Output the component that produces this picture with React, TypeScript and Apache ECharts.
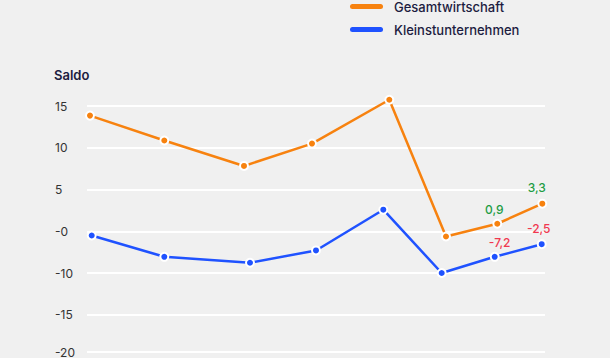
import React, { useEffect, useRef } from "react";
import * as echarts from "echarts";

// Series names
const seriesNames = ["Gesamtwirtschaft", "Kleinstunternehmen"];

// x positions (relative time units)
const orangeX = [3, 77.3, 157, 225, 302.3, 359, 410.3, 455.3];
const blueX = [4.7, 77.3, 163, 229, 296.3, 354.7, 407.7, 454.7];

// plotted values
const orangeY = [13.85, 10.87, 7.82, 10.5, 15.75, -0.63, 0.9, 3.3];
const blueY = [-0.51, -3.06, -3.77, -2.3, 2.58, -5.0, -3.06, -1.55];

// data labels shown on the last points
const orangeLabels = ["", "", "", "", "", "", "0,9", "3,3"];
const blueLabels = ["", "", "", "", "", "", "-7,2", "-2,5"];

// y axis ticks and their printed labels
const yTickValues = [15, 10, 5, 0, -5, -10, -15];
const yTickLabels = ["15", "10", "5", "-0", "-10", "-15", "-20"];
// the lowest visible grid line sits a little above the -15 tick
const bottomGridValue = -14.49;

const ORANGE = "#f7820f";
const BLUE = "#1f52ff";
const GREEN = "#1f9d45";
const RED = "#f0384f";
const NAVY = "#1c1c40";
const FONT = "Inter, 'Noto Sans', sans-serif";

const labelOffsets: Record<string, [number, number]> = {
  "0,9": [-3, 1],
  "3,3": [-5.5, -1],
  "-7,2": [5, 0.5],
  "-2,5": [-3, -1],
};

function buildData(xs: number[], ys: number[], labels: string[], color: string) {
  return xs.map((x, i) => {
    const txt = labels[i];
    const item: any = { value: [x, ys[i]] };
    if (txt) {
      item.label = {
        show: true,
        position: "top",
        distance: 4,
        offset: labelOffsets[txt] || [0, 0],
        formatter: () => txt,
        color,
        fontSize: 12,
        fontWeight: 500,
        fontFamily: FONT,
      };
    }
    return item;
  });
}

export default function App() {
  const ref = useRef<HTMLDivElement>(null);
  useEffect(() => {
    if (!ref.current) return;
    const chart = echarts.init(ref.current, undefined, { renderer: "svg" });
    const legendIcon =
      "path://M2.5,0 H30.5 A2.5,2.5 0 0 1 30.5,5 H2.5 A2.5,2.5 0 0 1 2.5,0 Z";
    chart.setOption({
      animation: false,
      backgroundColor: "#f0f0f0",
      title: {
        text: "Saldo",
        left: 54,
        top: 68,
        padding: 0,
        textStyle: { color: NAVY, fontSize: 13, fontWeight: 600, fontFamily: FONT },
      },
      legend: {
        orient: "vertical",
        left: 350,
        top: 0,
        padding: 0,
        itemWidth: 33,
        itemHeight: 5,
        itemGap: 10,
        data: seriesNames.map((n, i) => ({
          name: n,
          icon: legendIcon,
          itemStyle: { color: i === 0 ? ORANGE : BLUE, borderWidth: 0 },
        })),
        textStyle: {
          color: NAVY,
          fontSize: 13,
          fontWeight: 500,
          fontFamily: FONT,
          padding: [0, 0, 0, 6],
        },
      },
      grid: { left: 87, right: 65, top: 106, bottom: 0 },
      xAxis: {
        type: "value",
        min: 0,
        max: 458,
        show: false,
      },
      yAxis: {
        type: "value",
        min: -15,
        max: 15,
        interval: 5,
        axisLine: { show: false },
        axisTick: { show: false },
        splitLine: {
          showMinLine: false,
          lineStyle: { color: "#ffffff", width: 2 },
        },
        axisLabel: {
          align: "left",
          margin: 32,
          color: "#333333",
          fontSize: 12,
          fontFamily: FONT,
          showMinLabel: true,
          formatter: (v: number) => {
            const idx = yTickValues.indexOf(v);
            if (idx < 0) return "";
            if (v === -15) return "{low|" + yTickLabels[idx] + "}";
            return yTickLabels[idx];
          },
          rich: {
            low: {
              color: "#333333",
              fontSize: 12,
              fontFamily: FONT,
              padding: [0, 0, 9, 0],
            },
          },
        },
      },
      series: [
        {
          name: seriesNames[0],
          type: "line",
          clip: false,
          data: buildData(orangeX, orangeY, orangeLabels, GREEN),
          symbol: "circle",
          symbolSize: 8,
          lineStyle: { color: ORANGE, width: 2.5 },
          itemStyle: { color: ORANGE, borderColor: "#ffffff", borderWidth: 2 },
          markLine: {
            silent: true,
            symbol: "none",
            label: { show: false },
            lineStyle: { color: "#ffffff", width: 2, type: "solid" },
            data: [{ yAxis: bottomGridValue }],
          },
          z: 3,
        },
        {
          name: seriesNames[1],
          type: "line",
          clip: false,
          data: buildData(blueX, blueY, blueLabels, RED),
          symbol: "circle",
          symbolSize: 8,
          lineStyle: { color: BLUE, width: 2.5 },
          itemStyle: { color: BLUE, borderColor: "#ffffff", borderWidth: 2 },
          z: 2,
        },
      ],
    });
    return () => chart.dispose();
  }, []);
  return (
    <div
      ref={ref}
      style={{ position: "fixed", left: 0, top: 0, width: 610, height: 358 }}
    />
  );
}
